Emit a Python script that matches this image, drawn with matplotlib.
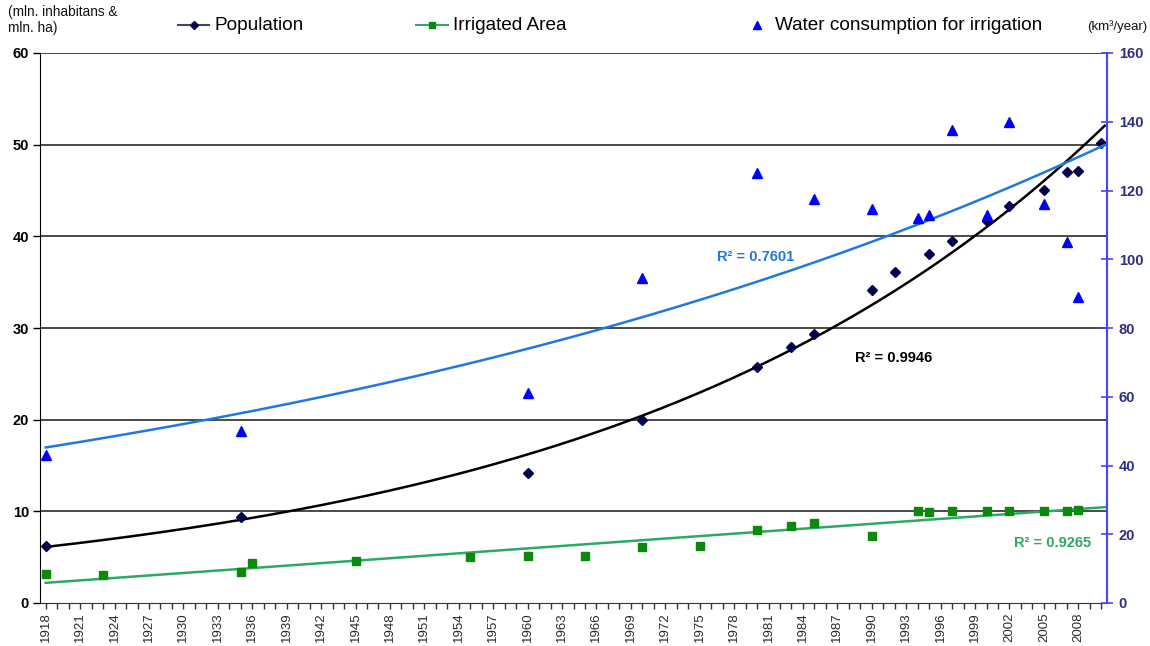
import numpy as np
import matplotlib
matplotlib.use("Agg")
import matplotlib.pyplot as plt
from matplotlib.lines import Line2D

plt.rcParams['font.family'] = ['Liberation Sans', 'DejaVu Sans']

# ---- data ----
pop_years = [1918, 1935, 1960, 1970, 1980, 1983, 1985, 1990, 1992, 1995, 1997,
             2000, 2002, 2005, 2007, 2008, 2010]
pop_values = [6.2, 9.4, 14.2, 20.0, 25.8, 27.9, 29.3, 34.1, 36.1, 38.1, 39.5,
              41.7, 43.3, 45.1, 47.0, 47.1, 50.2]

irr_years = [1918, 1923, 1935, 1936, 1945, 1955, 1960, 1965, 1970, 1975, 1980,
             1983, 1985, 1990, 1994, 1995, 1997, 2000, 2002, 2005, 2007, 2008]
irr_values = [3.2, 3.1, 3.4, 4.4, 4.6, 5.0, 5.1, 5.1, 6.1, 6.2, 8.0,
              8.4, 8.7, 7.3, 10.0, 9.9, 10.0, 10.0, 10.0, 10.0, 10.0, 10.1]

water_years = [1918, 1935, 1960, 1970, 1980, 1985, 1990, 1994, 1995, 1997,
               2000, 2002, 2005, 2007, 2008]
water_values = [43, 50, 61, 94.5, 125, 117.5, 114.5, 112, 113, 137.5,
                113, 140, 116, 105, 89]

r2_labels = ["R\u00b2 = 0.7601", "R\u00b2 = 0.9946", "R\u00b2 = 0.9265"]
legend_labels = ["Population", "Irrigated Area", "Water consumption for irrigation"]
left_title = "(mln. inhabitans &\nmln. ha)"
right_title = "(km\u00b3/year)"

first_year, last_year = 1918, 2010
label_years = list(range(1918, 2009, 3))

# ---- colours ----
c_pop = "#00004d"
c_pop_trend = "#000000"
c_irr = "#0a8a0a"
c_irr_trend = "#2ea862"
c_wat = "#0000ff"
c_wat_trend = "#1f78e0"
c_right = "#4444ff"
c_right_txt = "#2e2e8a"
c_grid = "#3c3c3c"

fig = plt.figure(figsize=(11.5, 6.46), dpi=100)
ax = fig.add_axes([40 / 1150, 1 - 603 / 646, (1107 - 40) / 1150, (603 - 53) / 646])
ax2 = ax.twinx()

ax.set_xlim(first_year - 0.5, last_year + 0.5)
ax.set_ylim(0, 60)
ax2.set_ylim(0, 160)

# grid
ax.set_yticks(range(0, 61, 10))
for v in range(10, 61, 10):
    ax.axhline(v, color=c_grid, lw=1.3, zorder=1)

# trend lines (fitted from the data)
xs = np.linspace(first_year, last_year + 0.3, 300)
bp, ap = np.polyfit(pop_years, np.log(pop_values), 1)
ax.plot(xs, np.exp(ap + bp * xs), color=c_pop_trend, lw=1.8, zorder=3)
bi, ai = np.polyfit(irr_years, irr_values, 1)
ax.plot(xs, ai + bi * xs, color=c_irr_trend, lw=1.8, zorder=3)
bw, aw = np.polyfit(water_years, np.log(water_values), 1)
ax2.plot(xs, np.exp(aw + bw * xs), color=c_wat_trend, lw=1.8, zorder=3)

# markers
ax.plot(pop_years, pop_values, linestyle='none', marker='D', ms=4.8, color=c_pop, zorder=4)
ax.plot(irr_years, irr_values, linestyle='none', marker='s', ms=6, color=c_irr, zorder=4)
ax2.plot(water_years, water_values, linestyle='none', marker='^', ms=7, color=c_wat, zorder=4)

# R^2 labels
ax.text(1976.5, 37.7, r2_labels[0], color=c_wat_trend, fontsize=10.5, fontweight='bold',
        ha='left', va='center')
ax.text(1988.5, 26.7, r2_labels[1], color='black', fontsize=10.5, fontweight='bold',
        ha='left', va='center')
ax.text(2002.4, 6.5, r2_labels[2], color=c_irr_trend, fontsize=10.5, fontweight='bold',
        ha='left', va='center')

# x axis
ax.set_xticks(label_years)
ax.set_xticklabels([str(y) for y in label_years], rotation=90, fontsize=9.5, color='#2a2a2a')
ax.set_xticks(range(first_year, last_year + 1), minor=True)
ax.tick_params(axis='x', which='both', direction='out', length=4, width=1, color='#333333', pad=3)

# left axis
ax.tick_params(axis='y', which='major', direction='out', length=5, width=1, color='black',
               labelsize=10.5, pad=3)
for t in ax.get_yticklabels():
    t.set_fontweight('bold')
ax.spines['top'].set_visible(False)
ax.spines['right'].set_visible(False)
ax.spines['left'].set_color('black')
ax.spines['bottom'].set_color('#333333')

# right axis
ax2.set_yticks(range(0, 161, 20))
ax2.tick_params(axis='y', direction='inout', length=9, width=1.2, color=c_right,
                labelcolor=c_right_txt, labelsize=10.5, pad=4)
for t in ax2.get_yticklabels():
    t.set_fontweight('bold')
for s in ['top', 'left', 'bottom']:
    ax2.spines[s].set_visible(False)
ax2.spines['right'].set_color(c_right)
ax2.spines['right'].set_linewidth(1.5)

# axis titles
fig.text(8 / 1150, 1 - 5 / 646, left_title, fontsize=9.8, ha='left', va='top', color='#111111',
         linespacing=1.2)
fig.text(1147 / 1150, 1 - 27 / 646, right_title, fontsize=9.5, ha='right', va='center',
         color='#111111')

# legend (manual)
ly = 1 - 25 / 646
def leg_line(x0, x1, color, marker, ms, mcolor):
    fig.add_artist(Line2D([x0 / 1150, x1 / 1150], [ly, ly], transform=fig.transFigure,
                          color=color, lw=1.5))
    fig.add_artist(Line2D([(x0 + x1) / 2 / 1150], [ly], transform=fig.transFigure,
                          marker=marker, ms=ms, color=mcolor, linestyle='none'))

leg_line(178, 209, "#444466", 'D', 4.5, c_pop)
fig.text(214 / 1150, ly, legend_labels[0], fontsize=13.7, ha='left', va='center')
leg_line(416, 448, c_irr_trend, 's', 5, c_irr)
fig.text(453 / 1150, ly, legend_labels[1], fontsize=13.7, ha='left', va='center')
fig.add_artist(Line2D([757 / 1150], [ly], transform=fig.transFigure, marker='^', ms=6,
                      color=c_wat, linestyle='none'))
fig.text(775 / 1150, ly, legend_labels[2], fontsize=13.7, ha='left', va='center')

fig.savefig("out.png", dpi=100)
